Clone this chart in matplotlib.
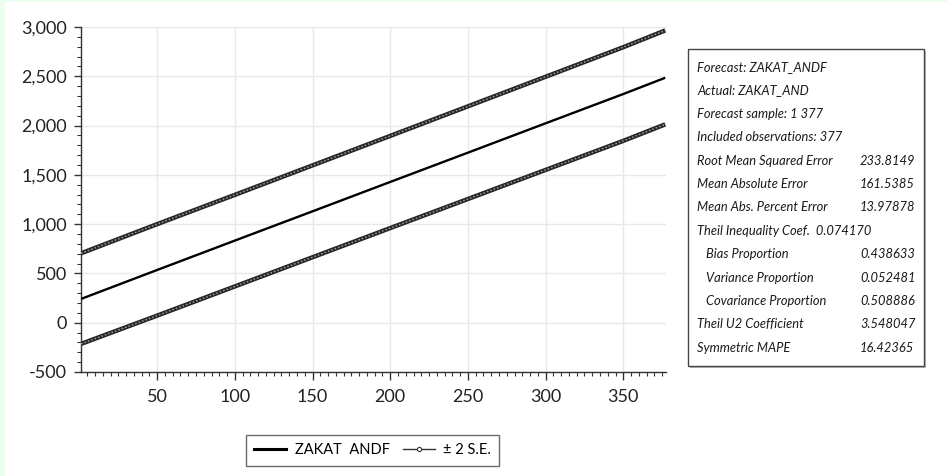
import numpy as np
import matplotlib.pyplot as plt
from matplotlib.lines import Line2D
from matplotlib.patches import Rectangle
from matplotlib.ticker import MultipleLocator, FuncFormatter

# Values at the tick positions
obs = [1, 50, 100, 150, 200, 250, 300, 350, 377]
forecast = [241, 535, 833, 1130, 1428, 1725, 2023, 2320, 2485]
upper_se = [704, 1000, 1297, 1596, 1895, 2195, 2495, 2795, 2965]
lower_se = [-215, 72, 368, 664, 960, 1255, 1550, 1845, 2012]

stat_labels = ['Forecast: ZAKAT_ANDF', 'Actual: ZAKAT_AND', 'Forecast sample: 1 377',
               'Included observations: 377', 'Root Mean Squared Error',
               'Mean Absolute Error', 'Mean Abs. Percent Error',
               'Theil Inequality Coef.  0.074170', '   Bias Proportion',
               '   Variance Proportion', '   Covariance Proportion',
               'Theil U2 Coefficient', 'Symmetric MAPE']
stat_values = ['', '', '', '', '233.8149', '161.5385', '13.97878', '',
               '0.438633', '0.052481', '0.508886', '3.548047', '16.42365']

W, H = 947, 476
fig = plt.figure(figsize=(W / 100, H / 100), dpi=100)
fig.patch.set_facecolor('white')
# light green strip on left / top edge
fig.add_artist(Rectangle((0, 0), 5 / W, 1, transform=fig.transFigure,
                         color='#ebfff0', lw=0))
fig.add_artist(Rectangle((0, 1 - 2 / H), 1, 2 / H, transform=fig.transFigure,
                         color='#ebfff0', lw=0))

ax = fig.add_axes([81 / W, 1 - 372 / H, (666 - 81) / W, (372 - 27) / H])
ax.set_xlim(1, 377.5)
ax.set_ylim(-500, 3000)

x = np.array(obs)
ax.plot(x, forecast, color='black', lw=1.7, solid_capstyle='butt', zorder=3)
for band in (upper_se, lower_se):
    ax.plot(x, band, color='#262626', lw=3.2, solid_capstyle='butt', zorder=3)
    ax.plot(x, band, color='#a0a0a0', lw=1.0, ls=(0, (1.2, 1.4)), zorder=4)

ax.xaxis.set_major_locator(MultipleLocator(50))
ax.xaxis.set_minor_locator(MultipleLocator(5))
ax.yaxis.set_major_locator(MultipleLocator(500))
ax.yaxis.set_minor_locator(MultipleLocator(100))
ax.yaxis.set_major_formatter(FuncFormatter(lambda v, p: f'{int(v):,}'))
ax.set_xticks([50, 100, 150, 200, 250, 300, 350])

ax.grid(True, which='major', color='#e8e8e8', lw=1)
ax.set_axisbelow(True)
for s in ('top', 'right'):
    ax.spines[s].set_visible(False)
for s in ('left', 'bottom'):
    ax.spines[s].set_color('#333333')
    ax.spines[s].set_linewidth(1)
ax.tick_params(which='major', length=5, width=1, color='#333333',
               labelsize=13, labelcolor='#222222')
ax.tick_params(axis='x', which='major', length=6, pad=6)
ax.tick_params(axis='y', which='major', pad=5)
ax.tick_params(which='minor', length=3, width=0.8, color='#333333')
for lab in ax.get_xticklabels() + ax.get_yticklabels():
    lab.set_family(['Lato', 'DejaVu Sans'])

# legend below the plot
h1 = Line2D([], [], color='black', lw=2.2)
h2 = Line2D([], [], color='#333333', lw=1, marker='o', ms=3,
            markerfacecolor='white', markeredgewidth=0.8)
leg = fig.legend([h1, h2], ['ZAKAT  ANDF', '± 2 S.E.'], ncol=2,
                 loc='center', bbox_to_anchor=(372.5 / W, 1 - 450.5 / H),
                 frameon=True, fancybox=False, edgecolor='#444444',
                 handlelength=2.2, columnspacing=0.9, handletextpad=0.6,
                 borderpad=0.55, prop={'family': ['Lato', 'DejaVu Sans'], 'size': 10.5})
leg.get_frame().set_linewidth(1)

# statistics box
bx0, by0, bx1, by1 = 688, 49, 924, 366
fig.add_artist(Rectangle(((bx0 + 2) / W, 1 - (by1 + 2) / H),
                         (bx1 - bx0) / W, (by1 - by0) / H, transform=fig.transFigure,
                         facecolor='#bbbbbb', edgecolor='none'))
fig.add_artist(Rectangle((bx0 / W, 1 - by1 / H), (bx1 - bx0) / W, (by1 - by0) / H,
                         transform=fig.transFigure, facecolor='white',
                         edgecolor='#444444', lw=1))
row0, dy = 67, 23.4
for i, (lab, val) in enumerate(zip(stat_labels, stat_values)):
    yy = 1 - (row0 + i * dy) / H
    fig.text(697 / W, yy, lab, ha='left', va='center', style='italic',
             fontsize=9.3, color='#1a1a1a', family=['Lato', 'DejaVu Sans'])
    if val:
        fig.text(860 / W, yy, val, ha='left', va='center', style='italic',
                 fontsize=9.3, color='#1a1a1a', family=['Lato', 'DejaVu Sans'])

fig.savefig('out.png', dpi=100)
